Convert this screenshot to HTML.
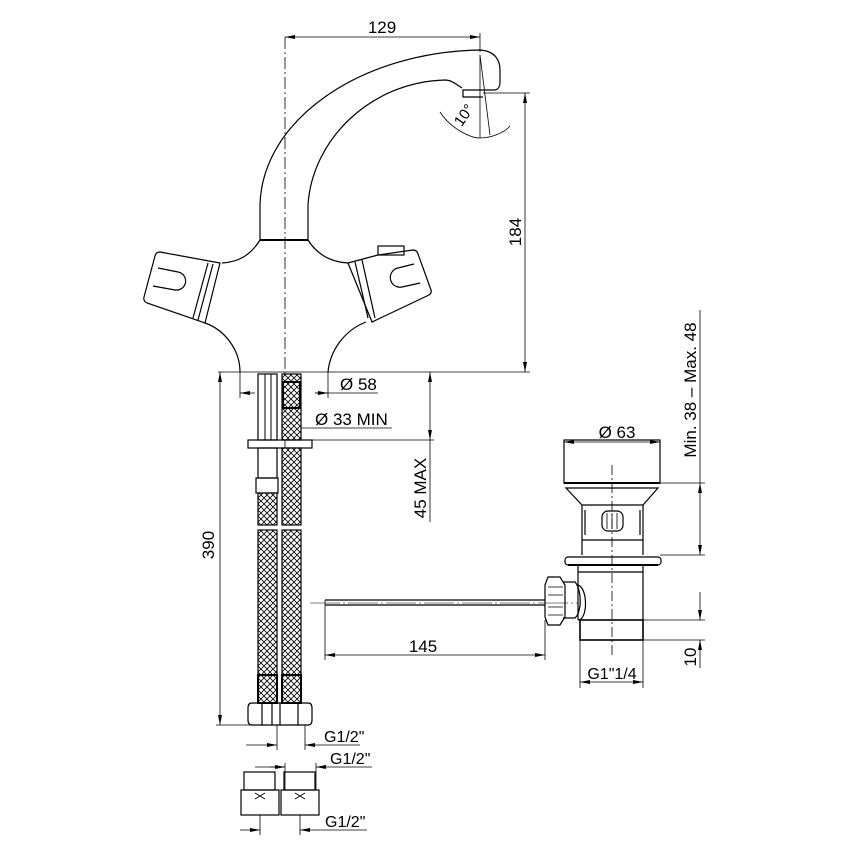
<!DOCTYPE html>
<html><head><meta charset="utf-8"><style>
html,body{margin:0;padding:0;background:#fff}
svg{display:block}
text{font-family:"Liberation Sans",sans-serif;fill:#000}
</style></head><body>
<svg width="849" height="849" viewBox="0 0 849 849" xmlns="http://www.w3.org/2000/svg">
<defs>
<pattern id="br" width="6" height="6" patternUnits="userSpaceOnUse">
<rect width="6" height="6" fill="#fff"/>
<path d="M0 0L6 6M6 0L0 6" stroke="#000" stroke-width="0.8"/>
</pattern>
<marker id="a" viewBox="0 0 10 4" refX="10" refY="2" markerWidth="10" markerHeight="4" orient="auto-start-reverse" markerUnits="userSpaceOnUse"><path d="M0 0L10 2L0 4z" fill="#000"/></marker>
</defs>
<g fill="none" stroke="#000" stroke-width="1.2">
<!-- spout -->
<path d="M260 240 L260 205 C262 120 360 52 480 50 C495 51 500 60 500 70 L500 82 C500 88 497 90 494 90 L463 90 L463 97 L483 97"/>
<path d="M308 240 L308 205 C312 140 370 82 445 80 C452 80 457 85 462 88"/>
<line x1="260" y1="240" x2="308" y2="240" stroke-width="2"/>
<!-- body left -->
<path d="M260 240 C250 256 238 262 222 263"/>
<path d="M160 252 L220 263 L205 323 L147 303 Q143 301 144 297 L155 256 Q156 252 160 252 Z"/>
<path d="M208 263 L193 318 M213 264 L198 320"/>
<path d="M158 268 L178 272 A9 9 0 0 1 175 290 L153 286"/>
<path d="M205 323 C225 330 240 350 240 372"/>
<!-- body right -->
<path d="M308 240 C318 256 332 262 348 263"/>
<path d="M348 263 L378 255 L413 250 Q417 250 418 254 L431 290 Q432 293 429 295 L372 322 Z"/>
<rect x="378" y="246" width="26" height="9"/>
<path d="M355 262 L368 318 M362 260 L375 318"/>
<path d="M414 264 L398 268 A9 9 0 0 0 402 287 L420 283"/>
<path d="M366 322 C345 330 330 350 328 372"/>
<!-- center line -->
<line x1="285" y1="37" x2="285" y2="450" stroke-width="0.8" stroke-dasharray="12 3 2 3"/>
<!-- dim 129 -->
<line x1="285" y1="37" x2="480" y2="37" marker-start="url(#a)" marker-end="url(#a)" stroke-width="0.8"/>
<line x1="480" y1="33" x2="480" y2="52" stroke-width="0.8"/>
<line x1="480" y1="55" x2="490" y2="135" stroke-width="0.8"/>
<line x1="480" y1="55" x2="480" y2="138" stroke-width="0.8"/>
<path d="M440 112 C450 128 470 138 480 138 C492 138 505 132 510 126" stroke-width="0.8"/>
<!-- dim 184 -->
<line x1="483" y1="93" x2="530" y2="93" stroke-width="0.8"/>
<line x1="525" y1="93" x2="525" y2="372" marker-start="url(#a)" marker-end="url(#a)" stroke-width="0.8"/>
<line x1="218" y1="372" x2="530" y2="372" stroke-width="0.8"/>
<!-- dim 390 -->
<line x1="220" y1="372" x2="220" y2="725" marker-start="url(#a)" marker-end="url(#a)" stroke-width="0.8"/>
<line x1="216" y1="725" x2="265" y2="725" stroke-width="0.8"/>
<!-- Ø58 -->
<line x1="240" y1="372" x2="240" y2="398" stroke-width="0.8"/>
<line x1="328" y1="372" x2="328" y2="398" stroke-width="0.8"/>
<line x1="240" y1="393" x2="255" y2="393" marker-start="url(#a)" stroke-width="0.8"/>
<line x1="315" y1="393" x2="378" y2="393" stroke-width="0.8"/>
<line x1="315" y1="393" x2="328" y2="393" marker-end="url(#a)" stroke-width="0.8"/>
<line x1="300" y1="428" x2="392" y2="428" stroke-width="0.8"/>
<!-- 45 MAX -->
<line x1="430" y1="372" x2="430" y2="440" marker-start="url(#a)" marker-end="url(#a)" stroke-width="0.8"/>
<line x1="312" y1="440" x2="434" y2="440" stroke-width="0.8"/>
<line x1="430" y1="440" x2="430" y2="522" stroke-width="0.8"/>
<!-- hoses -->
<rect x="258" y="374" width="19" height="66"/>
<rect x="265" y="374" width="6" height="66" stroke-width="1"/>
<rect x="282" y="374" width="19" height="66" fill="url(#br)"/>
<rect x="283" y="382" width="17" height="26" fill="url(#br)" stroke-width="2"/>
<rect x="248" y="440" width="64" height="8"/>
<rect x="258" y="448" width="19" height="30"/>
<rect x="256" y="478" width="22" height="15"/>
<rect x="258" y="493" width="19" height="32" fill="url(#br)"/>
<rect x="258" y="530" width="19" height="145" fill="url(#br)"/>
<rect x="282" y="448" width="19" height="77" fill="url(#br)"/>
<rect x="282" y="530" width="19" height="145" fill="url(#br)"/>
<rect x="258" y="675" width="19" height="28" fill="url(#br)" stroke-width="2"/>
<rect x="282" y="675" width="19" height="28" fill="url(#br)" stroke-width="2"/>
<path d="M252 703 L308 703 Q312 703 312 708 L312 720 Q312 725 308 725 L252 725 Q248 725 248 720 L248 708 Q248 703 252 703Z"/>
<path d="M262 703 V725 M272 703 V725 M280 703 V725 M298 703 V725"/>
<!-- G1/2 dims -->
<line x1="277" y1="725" x2="277" y2="750" stroke-width="0.8"/>
<line x1="305" y1="725" x2="305" y2="750" stroke-width="0.8"/>
<line x1="246" y1="745" x2="277" y2="745" marker-end="url(#a)" stroke-width="0.8"/>
<line x1="305" y1="745" x2="360" y2="745" marker-start="url(#a)" stroke-width="0.8"/>
<line x1="255" y1="767" x2="285" y2="767" stroke-width="0.8"/>
<line x1="270" y1="767" x2="285" y2="767" marker-end="url(#a)" stroke-width="0.8"/>
<line x1="316" y1="767" x2="372" y2="767" marker-start="url(#a)" stroke-width="0.8"/>
<line x1="285" y1="763" x2="285" y2="790" stroke-width="0.8"/>
<line x1="316" y1="763" x2="316" y2="790" stroke-width="0.8"/>
<rect x="244" y="772" width="31" height="18"/>
<rect x="241" y="790" width="38" height="25"/>
<rect x="284" y="772" width="31" height="18"/>
<rect x="281" y="790" width="38" height="25"/>
<path d="M255 793 L265 799 M265 793 L255 799 M295 793 L305 799 M305 793 L295 799" stroke-width="1"/>
<line x1="260" y1="815" x2="260" y2="835" stroke-width="0.8"/>
<line x1="300" y1="815" x2="300" y2="835" stroke-width="0.8"/>
<line x1="240" y1="830" x2="260" y2="830" marker-end="url(#a)" stroke-width="0.8"/>
<line x1="300" y1="830" x2="367" y2="830" marker-start="url(#a)" stroke-width="0.8"/>
<!-- drain -->
<line x1="612" y1="465" x2="612" y2="655" stroke-width="0.8" stroke-dasharray="10 3 2 3"/>
<rect x="564" y="440" width="96" height="43"/>
<line x1="564" y1="483" x2="660" y2="483" stroke-width="2"/>
<path d="M566 488 L658 488 L643 505 L582 505 Z"/>
<path d="M582 505 L582 555 M643 505 L643 555 M582 540 L643 540"/>
<path d="M585 510 V535 M640 510 V535"/>
<rect x="602" y="511" width="21" height="20" rx="6"/>
<path d="M607 513 V529 M612 513 V529 M617 513 V529" stroke-width="0.8"/>
<rect x="565" y="557" width="96" height="8" rx="3"/>
<line x1="568" y1="565" x2="658" y2="565" stroke-width="2"/>
<path d="M578 565 L578 620 M643 565 L643 620 M578 572 L643 572"/>
<rect x="580" y="620" width="63" height="20" stroke-width="1.6"/>
<path d="M578 585 C588 588 588 620 578 620"/>
<path d="M563 582 L575 582 C582 590 582 612 575 618 L563 618"/>
<path d="M548 577 L560 577 L565 585 L565 617 L560 625 L548 625 L545 617 L545 585Z"/>
<path d="M548 587 H563 M548 595 H563 M548 607 H563 M548 615 H563" stroke-width="0.8"/>
<line x1="325" y1="600" x2="545" y2="600"/>
<line x1="325" y1="605" x2="545" y2="605"/>
<line x1="310" y1="603" x2="578" y2="603" stroke-width="0.6" stroke-dasharray="30 3 2 3"/>
<!-- 145 -->
<line x1="325" y1="600" x2="325" y2="660" stroke-width="0.8"/>
<line x1="545" y1="620" x2="545" y2="660" stroke-width="0.8"/>
<line x1="325" y1="655" x2="545" y2="655" marker-start="url(#a)" marker-end="url(#a)" stroke-width="0.8"/>
<!-- Ø63 -->
<line x1="564" y1="442" x2="660" y2="442" marker-start="url(#a)" marker-end="url(#a)" stroke-width="0.8"/>
<!-- G1"1/4 -->
<line x1="580" y1="640" x2="580" y2="688" stroke-width="0.8"/>
<line x1="643" y1="640" x2="643" y2="688" stroke-width="0.8"/>
<line x1="580" y1="682" x2="643" y2="682" marker-start="url(#a)" marker-end="url(#a)" stroke-width="0.8"/>
<!-- right dims -->
<line x1="660" y1="483" x2="705" y2="483" stroke-width="0.8"/>
<line x1="660" y1="555" x2="705" y2="555" stroke-width="0.8"/>
<line x1="700" y1="483" x2="700" y2="555" marker-start="url(#a)" marker-end="url(#a)" stroke-width="0.8"/>
<line x1="700" y1="310" x2="700" y2="483" stroke-width="0.8"/>
<line x1="643" y1="620" x2="705" y2="620" stroke-width="0.8"/>
<line x1="643" y1="640" x2="705" y2="640" stroke-width="0.8"/>
<line x1="700" y1="592" x2="700" y2="620" marker-end="url(#a)" stroke-width="0.8"/>
<line x1="700" y1="668" x2="700" y2="640" marker-end="url(#a)" stroke-width="0.8"/>
</g>
<g font-size="17">
<text x="382" y="33" text-anchor="middle">129</text>
<text transform="translate(468,118) rotate(-55)" text-anchor="middle" font-size="15">10°</text>
<text transform="translate(521,232) rotate(-90)" text-anchor="middle">184</text>
<text transform="translate(214,545) rotate(-90)" text-anchor="middle">390</text>
<text x="340" y="390">Ø 58</text>
<text x="315" y="425">Ø 33 MIN</text>
<text transform="translate(426,488) rotate(-90)" text-anchor="middle">45 MAX</text>
<text x="324" y="742" font-size="16">G1/2"</text>
<text x="330" y="764" font-size="16">G1/2"</text>
<text x="325" y="827" font-size="16">G1/2"</text>
<text x="617" y="438" text-anchor="middle">Ø 63</text>
<text x="423" y="652" text-anchor="middle">145</text>
<text x="612" y="679" text-anchor="middle" font-size="16">G1"1/4</text>
<text transform="translate(696,390) rotate(-90)" text-anchor="middle">Min. 38 – Max. 48</text>
<text transform="translate(696,657) rotate(-90)" text-anchor="middle">10</text>
</g>
</svg>
</body></html>
